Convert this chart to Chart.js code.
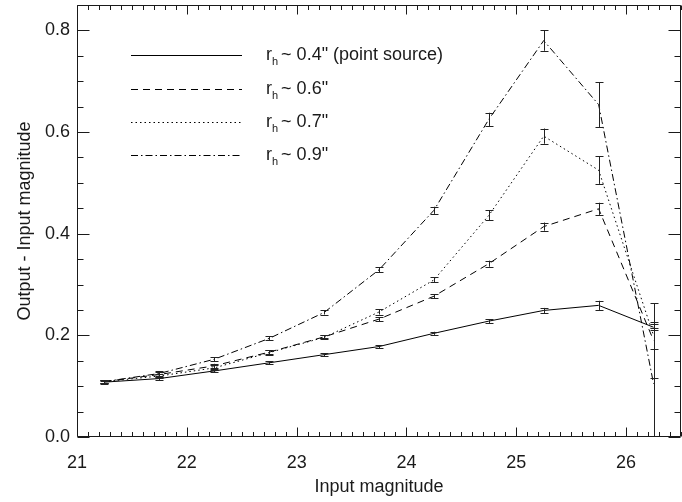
<!DOCTYPE html>
<html>
<head>
<meta charset="utf-8">
<script src="https://cdn.jsdelivr.net/npm/chart.js@4.4.1/dist/chart.umd.min.js"></script>
<style>
  html, body { margin: 0; padding: 0; background: #fff; }
</style>
</head>
<body>
<canvas id="chart" width="682" height="502"></canvas>
<script>
// input magnitudes (x) shared by every curve
const mags = [21.25, 21.75, 22.25, 22.75, 23.25, 23.75, 24.25, 24.75, 25.25, 25.75, 26.25];

// output - input magnitude, one array per half-light radius
const r04 = [0.108, 0.115, 0.130, 0.146, 0.162, 0.178, 0.204, 0.228, 0.249, 0.259, 0.216];
const r06 = [0.109, 0.123, 0.140, 0.167, 0.197, 0.232, 0.277, 0.341, 0.414, 0.449, 0.190];
const r07 = [0.109, 0.120, 0.136, 0.166, 0.196, 0.246, 0.309, 0.436, 0.592, 0.525, 0.200];
const r09 = [0.109, 0.125, 0.153, 0.194, 0.245, 0.329, 0.446, 0.625, 0.780, 0.654, 0.105];

// error bar half-lengths
const err04 = [0.003, 0.003, 0.003, 0.003, 0.003, 0.003, 0.003, 0.004, 0.005, 0.009, 0.006];
const err06 = [0.003, 0.004, 0.004, 0.004, 0.003, 0.004, 0.004, 0.006, 0.008, 0.012, 0.073];
const err07 = [0.003, 0.004, 0.005, 0.005, 0.004, 0.005, 0.005, 0.010, 0.015, 0.027, 0.027];
const err09 = [0.003, 0.004, 0.004, 0.004, 0.004, 0.005, 0.007, 0.013, 0.020, 0.044, 0.110];

const labels = ['0.4" (point source)', '0.6"', '0.7"', '0.9"'];
const dashes = [[], [7, 5], [1.5, 3], [7, 3, 1.5, 3]];

const xTicks = [21, 22, 23, 24, 25, 26];
const yTicks = [0, 0.2, 0.4, 0.6, 0.8];

const FONT = '"Liberation Sans", Helvetica, Arial, sans-serif';
const INK = '#1a1a1a';

const series = [r04, r06, r07, r09];
const errors = [err04, err06, err07, err09];

function pts(vals) {
    return mags.map((m, i) => ({ x: m, y: vals[i] }));
}

function noPad(scale) {
    scale.paddingTop = 0;
    scale.paddingBottom = 0;
    scale.paddingLeft = 0;
    scale.paddingRight = 0;
}

// frame with inward ticks on all four sides
const framePlugin = {
    id: 'frame',
    afterDraw(chart) {
        const ctx = chart.ctx;
        const a = chart.chartArea;
        const xs = chart.scales.x, ys = chart.scales.y;
        ctx.save();
        ctx.strokeStyle = INK;
        ctx.lineWidth = 1;
        ctx.beginPath();
        const L = Math.round(a.left) + 0.5, R = Math.round(a.right) - 0.5;
        const T = Math.round(a.top) + 0.5, B = Math.round(a.bottom) - 0.5;
        ctx.rect(L, T, R - L, B - T);
        for (let k = 0; k <= 55; k++) {
            const v = 21 + k * 0.1;
            const px = Math.round(xs.getPixelForValue(v)) + 0.5;
            const len = (k % 10 === 0) ? 9 : 4.5;
            ctx.moveTo(px, B); ctx.lineTo(px, B - len);
            ctx.moveTo(px, T); ctx.lineTo(px, T + len);
        }
        for (let k = 0; k <= 17; k++) {
            const v = k * 0.05;
            const py = Math.round(ys.getPixelForValue(v)) + 0.5;
            const len = (k % 4 === 0) ? 12 : 6;
            ctx.moveTo(L, py); ctx.lineTo(L + len, py);
            ctx.moveTo(R, py); ctx.lineTo(R - len, py);
        }
        ctx.stroke();
        ctx.restore();
    }
};

const errorBarPlugin = {
    id: 'errbars',
    afterDatasetsDraw(chart) {
        const ctx = chart.ctx;
        const a = chart.chartArea;
        const xs = chart.scales.x, ys = chart.scales.y;
        ctx.save();
        ctx.strokeStyle = '#222';
        ctx.lineWidth = 1;
        ctx.beginPath();
        series.forEach((vals, s) => {
            vals.forEach((v, i) => {
                const px = Math.round(xs.getPixelForValue(mags[i])) + 0.5;
                let top = ys.getPixelForValue(v + errors[s][i]);
                let bot = ys.getPixelForValue(v - errors[s][i]);
                const topIn = top >= a.top, botIn = bot <= a.bottom;
                top = Math.max(top, a.top);
                bot = Math.min(bot, a.bottom);
                ctx.moveTo(px, top); ctx.lineTo(px, bot);
                if (topIn) { ctx.moveTo(px - 4, Math.round(top) + 0.5); ctx.lineTo(px + 4, Math.round(top) + 0.5); }
                if (botIn) { ctx.moveTo(px - 4, Math.round(bot) + 0.5); ctx.lineTo(px + 4, Math.round(bot) + 0.5); }
            });
        });
        ctx.stroke();
        ctx.restore();
    }
};

// legend drawn inside the plot, with r subscript h
const legendPlugin = {
    id: 'rhLegend',
    afterDraw(chart) {
        const ctx = chart.ctx;
        const rows = [55, 89, 122, 155];
        ctx.save();
        ctx.strokeStyle = '#000';
        ctx.fillStyle = INK;
        ctx.lineWidth = 1;
        ctx.textBaseline = 'middle';
        rows.forEach((y, i) => {
            ctx.setLineDash(dashes[i]);
            ctx.beginPath();
            ctx.moveTo(131, y + 0.5);
            ctx.lineTo(242, y + 0.5);
            ctx.stroke();
            ctx.setLineDash([]);
            let x = 266;
            ctx.font = '18px ' + FONT;
            ctx.fillText('r', x, y);
            x += ctx.measureText('r').width;
            ctx.font = '11px ' + FONT;
            ctx.fillText('h', x, y + 7);
            x += ctx.measureText('h').width + 3;
            ctx.font = '18px ' + FONT;
            ctx.fillText('~ ' + labels[i], x, y);
        });
        ctx.restore();
    }
};

new Chart(document.getElementById('chart'), {
    type: 'line',
    data: {
        datasets: series.map((vals, s) => ({
            label: labels[s],
            data: pts(vals),
            borderColor: '#000',
            borderWidth: 1,
            borderDash: dashes[s],
            pointRadius: 0,
            tension: 0,
            fill: false
        }))
    },
    options: {
        responsive: false,
        animation: false,
        layout: { padding: { top: 5, right: 1, left: 0, bottom: 0 } },
        plugins: { legend: { display: false }, tooltip: { enabled: false } },
        scales: {
            x: {
                type: 'linear',
                min: 21,
                max: 26.5,
                grid: { display: false, drawTicks: false },
                border: { display: false },
                afterBuildTicks: (scale) => { scale.ticks = xTicks.map(v => ({ value: v })); },
                afterFit: (scale) => { scale.height = 65; noPad(scale); },
                ticks: {
                    color: INK,
                    padding: 15,
                    maxRotation: 0,
                    font: { family: FONT, size: 18 },
                    callback: (v) => String(v)
                },
                title: {
                    display: true,
                    text: 'Input magnitude',
                    color: INK,
                    font: { family: FONT, size: 18 },
                    padding: { top: 2 }
                }
            },
            y: {
                min: 0,
                max: 0.85,
                grid: { display: false, drawTicks: false },
                border: { display: false },
                afterBuildTicks: (scale) => { scale.ticks = yTicks.map(v => ({ value: v })); },
                afterFit: (scale) => { scale.width = 77; noPad(scale); },
                ticks: {
                    color: INK,
                    padding: 7,
                    font: { family: FONT, size: 18 },
                    callback: (v) => v.toFixed(1)
                },
                title: {
                    display: true,
                    text: 'Output - Input magnitude',
                    color: INK,
                    font: { family: FONT, size: 18 },
                    padding: { top: 14, bottom: 0 }
                }
            }
        }
    },
    plugins: [errorBarPlugin, framePlugin, legendPlugin]
});
</script>
</body>
</html>
